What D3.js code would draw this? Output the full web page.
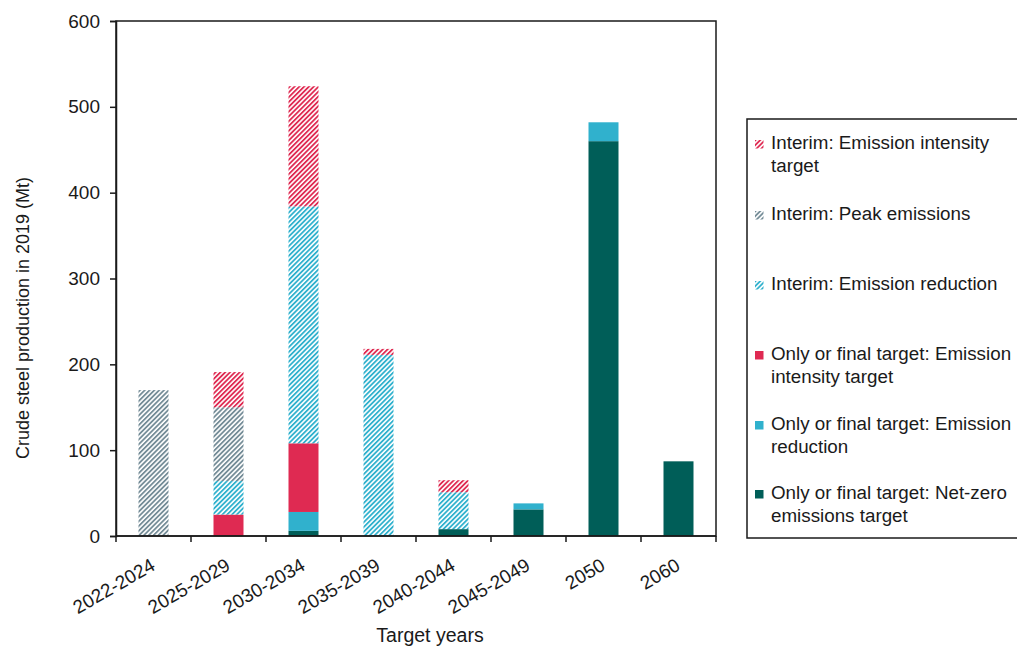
<!DOCTYPE html>
<html>
<head>
<meta charset="utf-8">
<script src="https://cdn.jsdelivr.net/npm/d3@7"></script>
<style>
  html, body { margin: 0; padding: 0; background: #fff; }
  svg { display: block; font-family: "Liberation Sans", Arial, sans-serif; }
</style>
</head>
<body>
<svg id="chart" width="1017" height="647"></svg>
<script>
const categories = ["2022-2024","2025-2029","2030-2034","2035-2039","2040-2044","2045-2049","2050","2060"];
const yTicks = [0,100,200,300,400,500,600];

// series, stacking order bottom -> top
const netZero          = [0,   0,   6,   0,   8,  31, 460, 87];
const finalReduction   = [0,   0,  22,   0,   0,   7,  22,  0];
const finalIntensity   = [0,  25,  80,   0,   0,   0,   0,  0];
const interimReduction = [0,  39, 276, 211,  43,   0,   0,  0];
const interimPeak      = [170, 86,   0,   0,   0,   0,   0,  0];
const interimIntensity = [0,  41, 140,   7,  14,   0,   0,  0];

const seriesKeys = ["netZero","finalReduction","finalIntensity","interimReduction","interimPeak","interimIntensity"];
const seriesValues = {netZero, finalReduction, finalIntensity, interimReduction, interimPeak, interimIntensity};
const seriesLabels = {
  interimIntensity: ["Interim: Emission intensity", "target"],
  interimPeak: ["Interim: Peak emissions"],
  interimReduction: ["Interim: Emission reduction"],
  finalIntensity: ["Only or final target: Emission", "intensity target"],
  finalReduction: ["Only or final target: Emission", "reduction"],
  netZero: ["Only or final target: Net-zero", "emissions target"]
};
const legendOrder = ["interimIntensity","interimPeak","interimReduction","finalIntensity","finalReduction","netZero"];

const RED = "#DF2A52", CYAN = "#30B1CD", TEAL = "#005E58", GRAY = "#748C97";
const INK = "#1a1a1a";
const style = {
  netZero: {color: TEAL, hatch: false},
  finalReduction: {color: CYAN, hatch: false},
  finalIntensity: {color: RED, hatch: false},
  interimReduction: {color: CYAN, hatch: true},
  interimPeak: {color: GRAY, hatch: true},
  interimIntensity: {color: RED, hatch: true}
};

const svg = d3.select("#chart");
const W = 1017, H = 647;
const margin = {left: 116, right: 301, top: 21, bottom: 111};
const x0 = margin.left, x1 = W - margin.right, y0 = H - margin.bottom, y1 = margin.top;

// hatch patterns
const defs = svg.append("defs");
seriesKeys.filter(k => style[k].hatch).forEach(k => {
  const p = defs.append("pattern")
    .attr("id", "hatch-" + k)
    .attr("patternUnits", "userSpaceOnUse")
    .attr("width", 3.4).attr("height", 3.4)
    .attr("patternTransform", "rotate(45)");
  p.append("rect").attr("width", 3.4).attr("height", 3.4).attr("fill", "#fff");
  p.append("rect").attr("x", 0).attr("y", 0).attr("width", 1.8).attr("height", 3.4).attr("fill", style[k].color);
});
const fillOf = k => style[k].hatch ? `url(#hatch-${k})` : style[k].color;

const x = d3.scaleBand().domain(categories).range([x0, x1]).paddingInner(0.6).paddingOuter(0.3);
const y = d3.scaleLinear().domain([0, 600]).range([y0, y1]);

const rows = categories.map((c, i) => {
  const r = {cat: c};
  seriesKeys.forEach(k => r[k] = seriesValues[k][i]);
  return r;
});
const stacked = d3.stack().keys(seriesKeys)(rows);

svg.append("g").selectAll("g").data(stacked).join("g")
  .attr("fill", d => fillOf(d.key))
  .selectAll("rect").data(d => d.filter(s => s[1] - s[0] > 0)).join("rect")
  .attr("x", d => x(d.data.cat))
  .attr("width", x.bandwidth())
  .attr("y", d => y(d[1]))
  .attr("height", d => y(d[0]) - y(d[1]));

// frame
svg.append("rect").attr("x", x0).attr("y", y1).attr("width", x1 - x0).attr("height", y0 - y1)
  .attr("fill", "none").attr("stroke", INK).attr("stroke-width", 1.5);

// y axis
const yAxis = svg.append("g").attr("transform", `translate(${x0},0)`)
  .call(d3.axisLeft(y).tickValues(yTicks).tickSize(6).tickPadding(10));
yAxis.select(".domain").attr("stroke", INK).attr("stroke-width", 1.5);
yAxis.selectAll(".tick line").attr("stroke", INK).attr("stroke-width", 1.5);
yAxis.selectAll("text").attr("font-size", 19).attr("fill", INK)
  .attr("font-family", "Liberation Sans, Arial, sans-serif");

// x axis: ticks at category boundaries
const xAxisG = svg.append("g").attr("transform", `translate(0,${y0})`);
xAxisG.append("line").attr("x1", x0).attr("x2", x1).attr("stroke", INK).attr("stroke-width", 1.5);
const boundaries = d3.range(categories.length + 1).map(i => x0 + i * (x1 - x0) / categories.length);
xAxisG.selectAll("line.tk").data(boundaries).join("line").attr("class", "tk")
  .attr("x1", d => d).attr("x2", d => d).attr("y1", 0).attr("y2", 6)
  .attr("stroke", INK).attr("stroke-width", 1.5);
xAxisG.selectAll("text").data(categories).join("text")
  .attr("transform", d => `translate(${x(d) + x.bandwidth() / 2 + 3},${33}) rotate(-30)`)
  .attr("text-anchor", "end")
  .attr("font-size", 19).attr("fill", INK)
  .text(d => d);

// axis titles
svg.append("text").attr("x", 430).attr("y", 642).attr("text-anchor", "middle")
  .attr("font-size", 19.5).attr("fill", INK).text("Target years");
svg.append("text").attr("transform", `translate(29,318) rotate(-90)`)
  .attr("text-anchor", "middle").attr("font-size", 18).attr("fill", INK)
  .text("Crude steel production in 2019 (Mt)");

// legend
const lg = svg.append("g");
lg.append("rect").attr("x", 747).attr("y", 119).attr("width", 300).attr("height", 419)
  .attr("fill", "none").attr("stroke", INK).attr("stroke-width", 1.5);
const legendY = [149, 220, 290, 360, 430, 499];
legendOrder.forEach((k, i) => {
  const g = lg.append("g").attr("transform", `translate(0,${legendY[i]})`);
  g.append("rect").attr("x", 755).attr("y", -9).attr("width", 8.5).attr("height", 8.5).attr("fill", fillOf(k));
  seriesLabels[k].forEach((t, j) => {
    g.append("text").attr("x", 771).attr("y", j * 22.5).attr("font-size", 18.8).attr("fill", INK).text(t);
  });
});
</script>
</body>
</html>
